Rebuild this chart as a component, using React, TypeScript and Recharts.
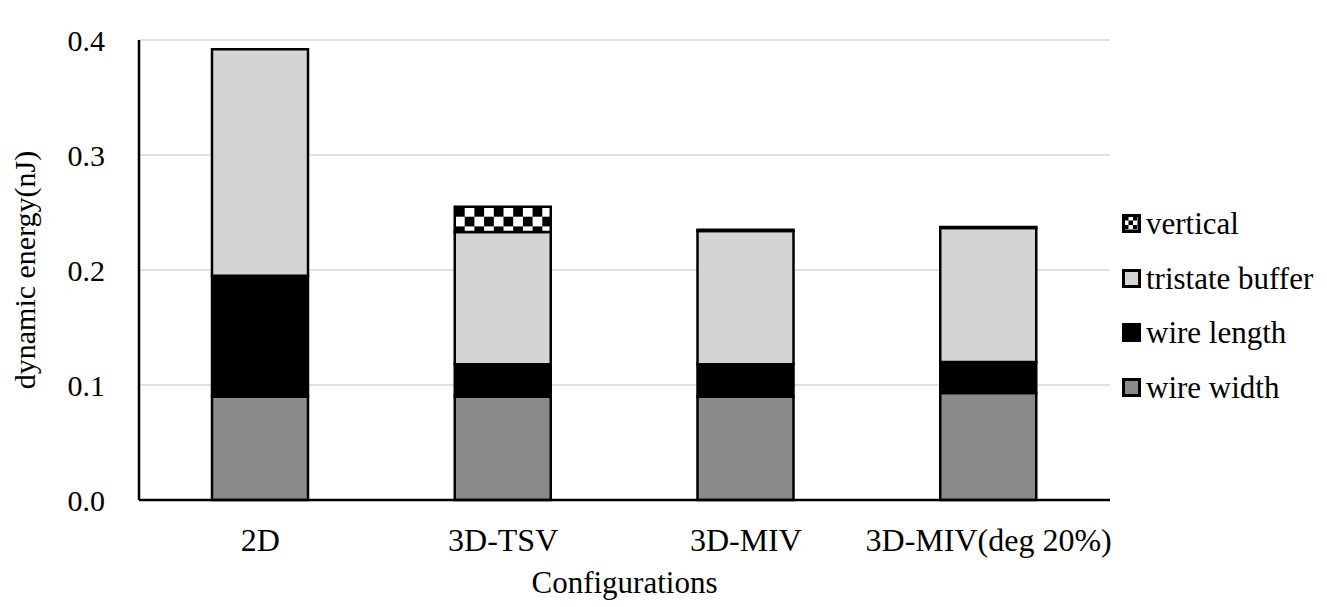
import React from 'react';
import { BarChart, Bar, XAxis, YAxis, CartesianGrid, Legend } from 'recharts';

if (typeof document !== 'undefined') document.body.style.margin = '0';

const configs = ['2D', '3D-TSV', '3D-MIV', '3D-MIV(deg 20%)'];
const wireWidth = [0.09, 0.09, 0.09, 0.093];
const wireLength = [0.105, 0.028, 0.028, 0.027];
const tristateBuffer = [0.197, 0.115, 0.116, 0.1165];
const vertical = [0, 0.022, 0.001, 0.001];
const yTicks = [0, 0.1, 0.2, 0.3, 0.4];

const data = configs.map((name, i) => ({
  name,
  width: wireWidth[i],
  length: wireLength[i],
  tristate: tristateBuffer[i],
  vertical: vertical[i],
}));

const FONT = '"Liberation Serif", "Times New Roman", serif';

const legendItems = [
  { label: 'vertical', fill: 'url(#checkerLegend)' },
  { label: 'tristate buffer', fill: '#d4d4d4' },
  { label: 'wire length', fill: '#000000' },
  { label: 'wire width', fill: '#8a8a8a' },
];

const renderLegend = () => (
  <div style={{ fontFamily: FONT, fontSize: 31, color: '#000', lineHeight: 1 }}>
    <svg width={0} height={0} style={{ position: 'absolute' }}>
      <defs>
        <pattern id="checkerLegend" width={9} height={9} patternUnits="userSpaceOnUse" x={2} y={2}>
          <rect width={9} height={9} fill="#fff" />
          <rect width={4.5} height={4.5} fill="#000" />
          <rect x={4.5} y={4.5} width={4.5} height={4.5} fill="#000" />
        </pattern>
      </defs>
    </svg>
    {legendItems.map((it) => (
      <div key={it.label} style={{ display: 'flex', alignItems: 'center', height: 54.7 }}>
        <svg width={19} height={19} style={{ marginRight: 5 }}>
          <rect x={1.5} y={1.5} width={16} height={16} fill={it.fill} stroke="#000" strokeWidth={3} />
        </svg>
        <span>{it.label}</span>
      </div>
    ))}
  </div>
);

const App: React.FC = () => {
  return (
    <div style={{ width: 1327, height: 607, background: '#fff' }}>
      <BarChart
        width={1327}
        height={607}
        data={data}
        margin={{ top: 40, right: 217, left: 0, bottom: 0 }}
        barSize={96}
      >
        <defs>
          <pattern id="checker" width={19.4} height={19.4} patternUnits="userSpaceOnUse" x={455} y={207}>
            <rect width={19.4} height={19.4} fill="#fff" />
            <rect width={9.7} height={9.7} fill="#000" />
            <rect x={9.7} y={9.7} width={9.7} height={9.7} fill="#000" />
          </pattern>
        </defs>
        <CartesianGrid vertical={false} stroke="#d6d6d6" strokeWidth={1.5} />
        <XAxis
          dataKey="name"
          height={107}
          axisLine={{ stroke: '#000', strokeWidth: 2.5 }}
          tickLine={false}
          tickMargin={22}
          tick={{ fill: '#000', fontSize: 32, fontFamily: FONT }}
          label={{ value: 'Configurations', position: 'insideBottom', offset: 14, fill: '#000', fontSize: 31, fontFamily: FONT }}
        />
        <YAxis
          width={139}
          domain={[0, 0.4]}
          ticks={yTicks}
          tickFormatter={(v: number) => v.toFixed(1)}
          axisLine={{ stroke: '#000', strokeWidth: 2.5 }}
          tickLine={false}
          tickMargin={28}
          tick={{ fill: '#000', fontSize: 30, fontFamily: FONT }}
          label={{ value: 'dynamic  energy(nJ)', angle: -90, position: 'insideLeft', offset: 24, fill: '#000', fontSize: 30, fontFamily: FONT, style: { textAnchor: 'middle', whiteSpace: 'pre' } }}
        />
        <Legend
          layout="vertical"
          verticalAlign="middle"
          align="center"
          content={renderLegend}
          wrapperStyle={{ left: 1122, top: 196, width: 205 }}
        />
        <Bar dataKey="width" stackId="a" fill="#8a8a8a" stroke="#000" strokeWidth={2.5} isAnimationActive={false} />
        <Bar dataKey="length" stackId="a" fill="#000" stroke="#000" strokeWidth={2.5} isAnimationActive={false} />
        <Bar dataKey="tristate" stackId="a" fill="#d4d4d4" stroke="#000" strokeWidth={2.5} isAnimationActive={false} />
        <Bar dataKey="vertical" stackId="a" fill="url(#checker)" stroke="#000" strokeWidth={2.5} isAnimationActive={false} />
      </BarChart>
    </div>
  );
};

export default App;
